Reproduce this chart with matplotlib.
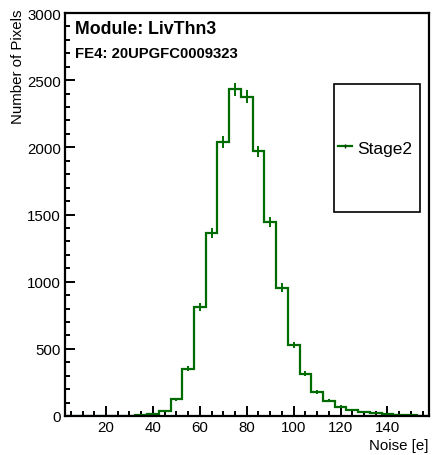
import numpy as np
import matplotlib
matplotlib.use('Agg')
import matplotlib.pyplot as plt
from matplotlib.lines import Line2D
from matplotlib.patches import Rectangle
from matplotlib.ticker import MultipleLocator

plt.rcParams['font.family'] = ['Liberation Sans', 'DejaVu Sans']

# bin centres (width 5) and counts
bin_centers = [5, 10, 15, 20, 25, 30, 35, 40, 45, 50, 55, 60, 65, 70, 75, 80,
               85, 90, 95, 100, 105, 110, 115, 120, 125, 130, 135, 140, 145, 150, 155]
counts = [0, 0, 0, 0, 0, 3, 8, 15, 40, 125, 350, 812, 1363, 2041, 2433, 2376,
          1969, 1447, 956, 530, 315, 178, 115, 70, 45, 28, 25, 15, 10, 5, 2]
series_name = 'Stage2'
title_lines = ['Module: LivThn3', 'FE4: 20UPGFC0009323']

green = '#006b00'
W, H = 432, 456

fig = plt.figure(figsize=(W / 100, H / 100), dpi=100)
ax = fig.add_axes([65 / W, 1 - 417 / H, (428.5 - 65) / W, (417 - 14) / H])

centers = np.array(bin_centers, dtype=float)
vals = np.array(counts, dtype=float)
edges = np.append(centers - 2.5, centers[-1] + 2.5)

ax.stairs(vals, edges, color=green, lw=1.6, baseline=None)
nz = vals > 0
ax.errorbar(centers[nz], vals[nz], yerr=np.sqrt(vals[nz]), xerr=1.5,
            fmt='none', ecolor=green, elinewidth=1.4, capsize=0)

ax.set_xlim(2.5, 157.5)
ax.set_ylim(0, 3000)

ax.xaxis.set_major_locator(MultipleLocator(20))
ax.xaxis.set_minor_locator(MultipleLocator(5))
ax.yaxis.set_major_locator(MultipleLocator(500))
ax.yaxis.set_minor_locator(MultipleLocator(100))
ax.tick_params(which='both', direction='in', top=False, right=False,
               width=1.4, labelsize=10.8, pad=3)
ax.tick_params(which='major', length=7.5)
ax.tick_params(which='minor', length=3.8)
for sp in ax.spines.values():
    sp.set_linewidth(1.6)

ax.set_xlabel('Noise [e]', fontsize=10.8)
ax.xaxis.set_label_coords(1.0, -0.055)
ax.xaxis.label.set_horizontalalignment('right')
ax.set_ylabel('Number of Pixels', fontsize=10.8)
ax.yaxis.set_label_coords(-0.13, 1.01)
ax.yaxis.label.set_verticalalignment('center')
ax.yaxis.label.set_horizontalalignment('right')

fig.text(75 / W, 1 - 29 / H, title_lines[0], fontsize=12.8, fontweight='bold',
         va='center', ha='left')
fig.text(75 / W, 1 - 54.5 / H, title_lines[1], fontsize=10.7, fontweight='bold',
         va='center', ha='left')

# legend box
fig.patches.append(Rectangle((334 / W, 1 - 213 / H), (420 - 334) / W, (213 - 85) / H,
                             transform=fig.transFigure, fill=False,
                             edgecolor='black', lw=1.2))
handle = Line2D([], [], color=green, lw=1.6, marker='|', markersize=3,
                markeredgecolor='#003300')
fig.legend([handle], [series_name], loc='center',
           bbox_to_anchor=(375 / W, 1 - 149 / H), frameon=False,
           fontsize=12.5, handlelength=0.8, handletextpad=0.3)

fig.savefig('out.png', dpi=100)
